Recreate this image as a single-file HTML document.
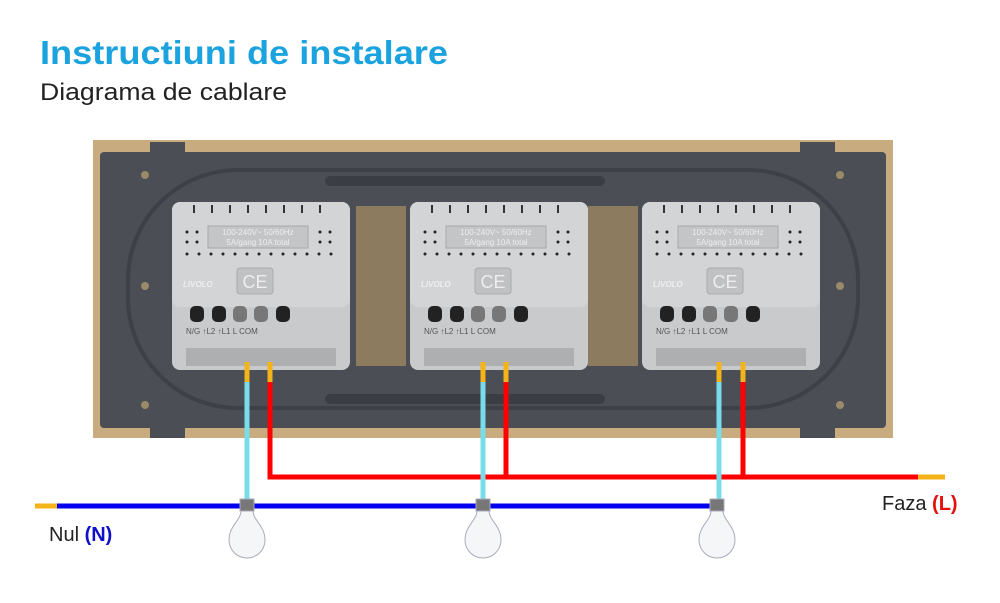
<!DOCTYPE html>
<html><head><meta charset="utf-8"><style>
body{margin:0;background:#fff;width:1000px;height:598px;overflow:hidden;font-family:"Liberation Sans",sans-serif}
</style></head><body>
<svg width="1000" height="598" viewBox="0 0 1000 598" xmlns="http://www.w3.org/2000/svg" font-family="Liberation Sans, sans-serif">
<text x="40" y="64" font-size="33" font-weight="bold" fill="#1aa3de" textLength="408" lengthAdjust="spacingAndGlyphs">Instructiuni de instalare</text>
<text x="40" y="100" font-size="24" fill="#222" textLength="247" lengthAdjust="spacingAndGlyphs">Diagrama de cablare</text>
<rect x="93" y="140" width="800" height="298" fill="#c8ab7e"/>
<rect x="100" y="152" width="786" height="276" rx="4" fill="#4b4e55"/>
<rect x="128" y="170" width="730" height="238" rx="110" fill="none" stroke="#3d4046" stroke-width="4"/>
<rect x="325" y="176" width="280" height="10" rx="5" fill="#3a3d43"/>
<rect x="325" y="394" width="280" height="10" rx="5" fill="#3a3d43"/>
<rect x="150" y="142" width="35" height="14" fill="#4b4e55"/>
<rect x="800" y="142" width="35" height="14" fill="#4b4e55"/>
<rect x="150" y="424" width="35" height="14" fill="#4b4e55"/>
<rect x="800" y="424" width="35" height="14" fill="#4b4e55"/>
<circle cx="145" cy="175" r="4" fill="#9a8a6a"/><circle cx="145" cy="405" r="4" fill="#9a8a6a"/>
<circle cx="145" cy="286" r="4" fill="#9a8a6a"/><circle cx="840" cy="286" r="4" fill="#9a8a6a"/>
<circle cx="840" cy="175" r="4" fill="#9a8a6a"/><circle cx="840" cy="405" r="4" fill="#9a8a6a"/>
<rect x="356" y="206" width="50" height="160" fill="#8c7b5e"/>
<rect x="588" y="206" width="50" height="160" fill="#8c7b5e"/>
<g id="m">
<rect x="172" y="202" width="178" height="168" rx="8" fill="#c9cacc"/>
<rect x="172" y="202" width="178" height="105" rx="8" fill="#d3d4d6"/>
<g stroke="#333" stroke-width="2"><path d="M194 205v8M212 205v8M230 205v8M248 205v8M266 205v8M284 205v8M302 205v8M320 205v8"/></g>
<g fill="#222"><circle cx="187" cy="232" r="1.5"/><circle cx="197" cy="232" r="1.5"/><circle cx="187" cy="242" r="1.5"/><circle cx="197" cy="242" r="1.5"/><circle cx="320" cy="232" r="1.5"/><circle cx="330" cy="232" r="1.5"/><circle cx="320" cy="242" r="1.5"/><circle cx="330" cy="242" r="1.5"/>
<circle cx="187" cy="254" r="1.5"/><circle cx="199" cy="254" r="1.5"/><circle cx="211" cy="254" r="1.5"/><circle cx="223" cy="254" r="1.5"/><circle cx="235" cy="254" r="1.5"/><circle cx="247" cy="254" r="1.5"/><circle cx="259" cy="254" r="1.5"/><circle cx="271" cy="254" r="1.5"/><circle cx="283" cy="254" r="1.5"/><circle cx="295" cy="254" r="1.5"/><circle cx="307" cy="254" r="1.5"/><circle cx="319" cy="254" r="1.5"/><circle cx="331" cy="254" r="1.5"/></g>
<rect x="208" y="226" width="100" height="22" fill="#c4c5c7" stroke="#a8a9ab"/>
<text x="258" y="235" font-size="8" fill="#eee" text-anchor="middle">100-240V~ 50/60Hz</text>
<text x="258" y="245" font-size="8" fill="#eee" text-anchor="middle">5A/gang 10A total</text>
<rect x="237" y="268" width="36" height="26" rx="3" fill="#c0c1c3" stroke="#aaa"/>
<text x="255" y="288" font-size="18" fill="#eee" text-anchor="middle">CE</text>
<text x="183" y="287" font-size="8" font-style="italic" font-weight="bold" fill="#eee">LIVOLO</text>
<g fill="#222"><rect x="190" y="306" width="14" height="16" rx="5"/><rect x="212" y="306" width="14" height="16" rx="5"/><rect x="276" y="306" width="14" height="16" rx="5"/></g>
<g fill="#777"><rect x="233" y="306" width="14" height="16" rx="5"/><rect x="254" y="306" width="14" height="16" rx="5"/></g>
<text x="186" y="334" font-size="8" fill="#555">N/G  ↑L2  ↑L1       L       COM</text>
<rect x="186" y="348" width="150" height="18" fill="#aeafb1"/>
</g>
<use href="#m" x="238"/>
<use href="#m" x="470"/>
<g stroke-width="5" fill="none">
<path d="M247 362V382M270 362V382M483 362V382M506 362V382M719 362V382M743 362V382M918 477H945M35 506H57" stroke="#f5b31a"/>
<path d="M270 382V477H918M506 382V477M743 382V477" stroke="#ff0000"/>
<path d="M57 506H718" stroke="#0000ee"/>
<path d="M247 382V502M483 382V502M719 382V502" stroke="#78dcea"/>
</g>
<g id="b" fill="#f4f6f8" stroke="#aab" stroke-width="1">
<rect x="240" y="499" width="14" height="12" fill="#777"/>
<path d="M241 511 C241 520 229 526 229 540 A18 18 0 0 0 265 540 C265 526 253 520 253 511Z"/>
</g>
<use href="#b" x="236"/><use href="#b" x="470"/>
<text x="49" y="541" font-size="20" fill="#222">Nul <tspan font-weight="bold" fill="#1010cc">(N)</tspan></text>
<text x="882" y="510" font-size="20" fill="#222">Faza <tspan font-weight="bold" fill="#e41010">(L)</tspan></text>
</svg>
</body></html>
